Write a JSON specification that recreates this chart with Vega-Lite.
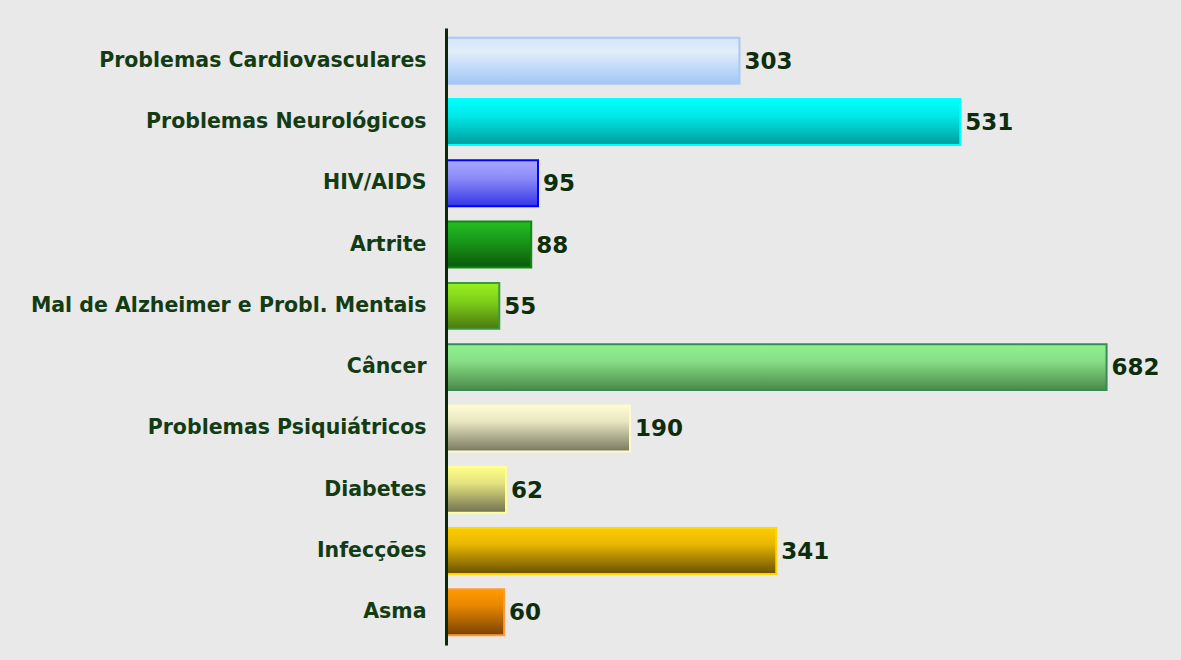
{
  "$schema": "https://vega.github.io/schema/vega-lite/v6.json",
  "autosize": "none",
  "width": 678,
  "height": 617,
  "padding": {"left": 446, "top": 28, "right": 57, "bottom": 15},
  "background": "#e9e9e9",
  "config": {"view": {"stroke": null}},
  "data": {"values": [
    {"cat": "Problemas Cardiovasculares", "v": 303},
    {"cat": "Problemas Neurológicos", "v": 531},
    {"cat": "HIV/AIDS", "v": 95},
    {"cat": "Artrite", "v": 88},
    {"cat": "Mal de Alzheimer e Probl. Mentais", "v": 55},
    {"cat": "Câncer", "v": 682},
    {"cat": "Problemas Psiquiátricos", "v": 190},
    {"cat": "Diabetes", "v": 62},
    {"cat": "Infecções", "v": 341},
    {"cat": "Asma", "v": 60}
  ]},
  "encoding": {
    "y": {"field": "cat", "type": "nominal", "sort": null,
      "scale": {"paddingInner": 0.25, "paddingOuter": 0.16},
      "axis": {"title": null, "ticks": false, "labelPadding": 20, "labelLimit": 500, "zindex": 1,
        "labelFont": "DejaVu Sans", "labelFontSize": 20.5, "labelFontWeight": "bold",
        "labelColor": "#143c14", "domainColor": "#0a2a0a", "domainWidth": 3}},
    "x": {"field": "v", "type": "quantitative", "scale": {"domain": [0, 700]}, "axis": null}
  },
  "layer": [
    {"mark": {"type": "bar", "strokeWidth": 2},
      "encoding": {
        "fill": {
          "condition": [
            {"test": "datum.cat === 'Problemas Cardiovasculares'", "value": {"gradient": "linear", "x1": 0, "y1": 0, "x2": 0, "y2": 1, "stops": [{"offset": 0, "color": "#d4e4f8"}, {"offset": 0.3, "color": "#e2edfa"}, {"offset": 1, "color": "#a2c6f6"}]}},
            {"test": "datum.cat === 'Problemas Neurológicos'", "value": {"gradient": "linear", "x1": 0, "y1": 0, "x2": 0, "y2": 1, "stops": [{"offset": 0, "color": "#00ffff"}, {"offset": 0.35, "color": "#00eaea"}, {"offset": 1, "color": "#009c9c"}]}},
            {"test": "datum.cat === 'HIV/AIDS'", "value": {"gradient": "linear", "x1": 0, "y1": 0, "x2": 0, "y2": 1, "stops": [{"offset": 0, "color": "#a8a8ff"}, {"offset": 0.4, "color": "#8a8af8"}, {"offset": 1, "color": "#3434e8"}]}},
            {"test": "datum.cat === 'Artrite'", "value": {"gradient": "linear", "x1": 0, "y1": 0, "x2": 0, "y2": 1, "stops": [{"offset": 0, "color": "#22c022"}, {"offset": 0.4, "color": "#1a9a1a"}, {"offset": 1, "color": "#0a5a0a"}]}},
            {"test": "datum.cat === 'Mal de Alzheimer e Probl. Mentais'", "value": {"gradient": "linear", "x1": 0, "y1": 0, "x2": 0, "y2": 1, "stops": [{"offset": 0, "color": "#98f020"}, {"offset": 0.4, "color": "#7ed01a"}, {"offset": 1, "color": "#4a7810"}]}},
            {"test": "datum.cat === 'Câncer'", "value": {"gradient": "linear", "x1": 0, "y1": 0, "x2": 0, "y2": 1, "stops": [{"offset": 0, "color": "#90f290"}, {"offset": 0.35, "color": "#88e088"}, {"offset": 1, "color": "#4a8a4a"}]}},
            {"test": "datum.cat === 'Problemas Psiquiátricos'", "value": {"gradient": "linear", "x1": 0, "y1": 0, "x2": 0, "y2": 1, "stops": [{"offset": 0, "color": "#fffcd4"}, {"offset": 0.35, "color": "#e8e6c0"}, {"offset": 1, "color": "#787860"}]}},
            {"test": "datum.cat === 'Diabetes'", "value": {"gradient": "linear", "x1": 0, "y1": 0, "x2": 0, "y2": 1, "stops": [{"offset": 0, "color": "#ffff88"}, {"offset": 0.35, "color": "#e4e480"}, {"offset": 1, "color": "#707050"}]}},
            {"test": "datum.cat === 'Infecções'", "value": {"gradient": "linear", "x1": 0, "y1": 0, "x2": 0, "y2": 1, "stops": [{"offset": 0, "color": "#ffcc00"}, {"offset": 0.35, "color": "#e8b800"}, {"offset": 1, "color": "#6a5000"}]}},
            {"test": "datum.cat === 'Asma'", "value": {"gradient": "linear", "x1": 0, "y1": 0, "x2": 0, "y2": 1, "stops": [{"offset": 0, "color": "#ff9a00"}, {"offset": 0.35, "color": "#e88800"}, {"offset": 1, "color": "#7a4200"}]}}
          ],
          "value": "#999999"
        },
        "stroke": {"field": "cat", "type": "nominal", "legend": null,
          "scale": {
            "domain": ["Problemas Cardiovasculares", "Problemas Neurológicos", "HIV/AIDS", "Artrite", "Mal de Alzheimer e Probl. Mentais", "Câncer", "Problemas Psiquiátricos", "Diabetes", "Infecções", "Asma"],
            "range": ["#a6c8f8", "#00ffff", "#0000ff", "#108a10", "#3a9a3a", "#3a8a5a", "#fffacc", "#ffff99", "#ffd700", "#ff9a33"]}}
      }
    },
    {"mark": {"type": "text", "align": "left", "baseline": "middle", "dx": 5, "dy": 1, "font": "DejaVu Sans", "fontSize": 23, "fontWeight": "bold", "color": "#0d2d0d"},
      "encoding": {"text": {"field": "v", "type": "quantitative"}}}
  ]
}
